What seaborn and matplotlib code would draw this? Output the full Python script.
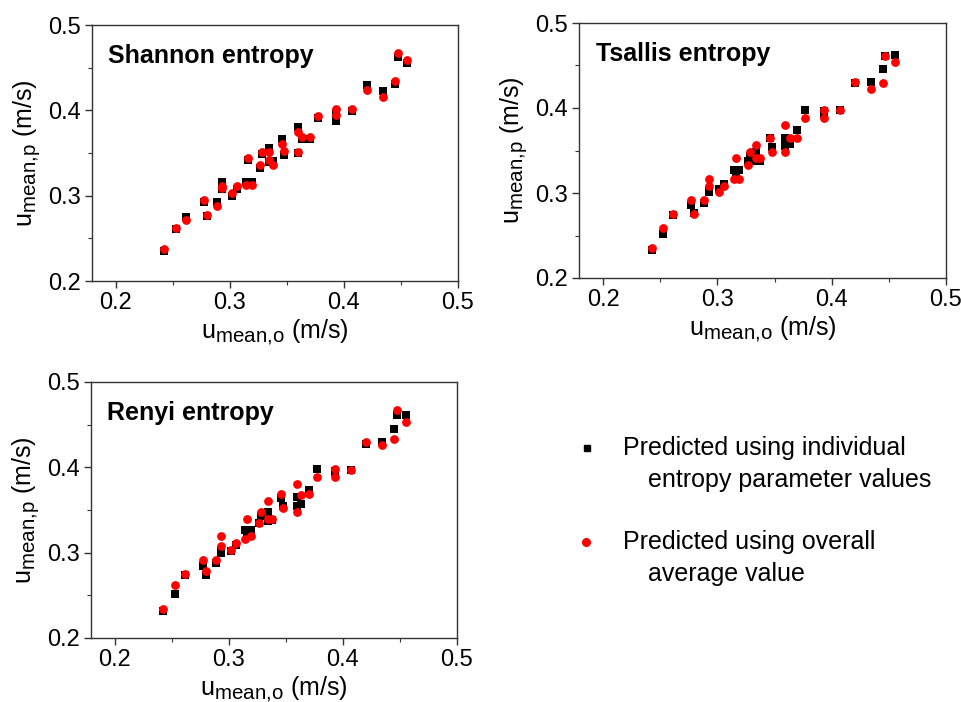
import matplotlib
matplotlib.use("Agg")
import matplotlib.pyplot as plt
import matplotlib._mathtext as mathtext_internal
from matplotlib.lines import Line2D
from matplotlib.ticker import MultipleLocator
import numpy as np
import pandas as pd
import seaborn as sns

sns.set_style("ticks")
plt.rcParams["font.family"] = ["Liberation Sans", "DejaVu Sans"]
plt.rcParams["mathtext.fontset"] = "custom"
plt.rcParams["mathtext.rm"] = "Liberation Sans"
plt.rcParams["mathtext.it"] = "Liberation Sans:italic"
plt.rcParams["text.color"] = "black"
plt.rcParams["axes.labelcolor"] = "black"
plt.rcParams["xtick.color"] = "black"
plt.rcParams["ytick.color"] = "black"
# slightly larger subscripts in the axis labels
mathtext_internal.SHRINK_FACTOR = 0.82

# Observed mean velocity (m/s)
u_obs = [0.2425, 0.2525, 0.2615, 0.2770, 0.2800, 0.2885, 0.2930, 0.2930,
         0.3015, 0.3060, 0.3145, 0.3160, 0.3190, 0.3265, 0.3285, 0.3340,
         0.3340, 0.3375, 0.3460, 0.3475, 0.3595, 0.3595, 0.3635, 0.3700,
         0.3770, 0.3932, 0.3932, 0.4072, 0.4205, 0.4343, 0.4450, 0.4470,
         0.4553]

# Shannon entropy predictions
shannon_indiv = [0.2355, 0.2606, 0.2750, 0.2920, 0.2760, 0.2920, 0.3164, 0.3078,
                 0.3000, 0.3078, 0.3164, 0.3418, 0.3164, 0.3328, 0.3488, 0.3563,
                 0.3395, 0.3406, 0.3660, 0.3477, 0.3800, 0.3496, 0.3660, 0.3660,
                 0.3906, 0.3880, 0.3965, 0.3992, 0.4293, 0.4227, 0.4309, 0.4621,
                 0.4550]
shannon_avg = [0.2370, 0.2620, 0.2720, 0.2950, 0.2775, 0.2880, 0.3110, 0.3090,
               0.3035, 0.3110, 0.3125, 0.3438, 0.3125, 0.3356, 0.3516, 0.3516,
               0.3420, 0.3363, 0.3605, 0.3527, 0.3750, 0.3516, 0.3690, 0.3690,
               0.3934, 0.3945, 0.4016, 0.4012, 0.4238, 0.4160, 0.4344, 0.4668,
               0.4586]

# Tsallis entropy predictions
tsallis_indiv = [0.2324, 0.2520, 0.2742, 0.2859, 0.2760, 0.2883, 0.3008, 0.3035,
                 0.3045, 0.3105, 0.3273, 0.3240, 0.3273, 0.3380, 0.3438, 0.3484,
                 0.3380, 0.3380, 0.3652, 0.3547, 0.3652, 0.3555, 0.3582, 0.3742,
                 0.3977, 0.3930, 0.3970, 0.3973, 0.4289, 0.4301, 0.4453, 0.4617,
                 0.4629]
tsallis_avg = [0.2352, 0.2594, 0.2754, 0.2918, 0.2754, 0.2918, 0.3160, 0.3078,
               0.3008, 0.3086, 0.3160, 0.3406, 0.3160, 0.3328, 0.3484, 0.3566,
               0.3406, 0.3406, 0.3652, 0.3484, 0.3805, 0.3484, 0.3652, 0.3652,
               0.3887, 0.3887, 0.3977, 0.3973, 0.4301, 0.4219, 0.4297, 0.4617,
               0.4539]

# Renyi entropy predictions
renyi_indiv = [0.2316, 0.2516, 0.2742, 0.2844, 0.2742, 0.2883, 0.2996, 0.3030,
               0.3016, 0.3086, 0.3270, 0.3242, 0.3262, 0.3352, 0.3430, 0.3477,
               0.3367, 0.3379, 0.3645, 0.3547, 0.3652, 0.3547, 0.3574, 0.3738,
               0.3977, 0.3945, 0.3960, 0.3965, 0.4277, 0.4297, 0.4445, 0.4617,
               0.4617]
renyi_avg = [0.2344, 0.2617, 0.2754, 0.2910, 0.2781, 0.2910, 0.3191, 0.3074,
             0.3027, 0.3113, 0.3156, 0.3398, 0.3191, 0.3352, 0.3477, 0.3605,
             0.3398, 0.3398, 0.3684, 0.3523, 0.3809, 0.3477, 0.3680, 0.3684,
             0.3887, 0.3887, 0.3977, 0.3965, 0.4297, 0.4258, 0.4336, 0.4668,
             0.4531]

panel_titles = ["Shannon entropy", "Tsallis entropy", "Renyi entropy"]
legend_labels = ["Predicted using individual\nentropy parameter values",
                 "Predicted using overall\naverage value"]
x_ticks = [0.2, 0.3, 0.4, 0.5]
y_ticks = [0.2, 0.3, 0.4, 0.5]

panels = [
    (panel_titles[0], shannon_indiv, shannon_avg, [92, 25, 458, 281]),
    (panel_titles[1], tsallis_indiv, tsallis_avg, [579, 23, 946, 278]),
    (panel_titles[2], renyi_indiv, renyi_avg, [91, 382, 457, 638]),
]

W, H = 961, 702
fig = plt.figure(figsize=(W / 100, H / 100), dpi=100)

for title, indiv, avg, (l, t, r, b) in panels:
    ax = fig.add_axes([l / W, 1 - b / H, (r - l) / W, (b - t) / H])
    df = pd.DataFrame({"obs": u_obs, "indiv": indiv, "avg": avg})
    sns.scatterplot(data=df, x="obs", y="indiv", ax=ax, marker="s", color="black",
                    s=36, linewidth=0, zorder=3)
    sns.scatterplot(data=df, x="obs", y="avg", ax=ax, marker="o", color="#ff0000",
                    s=40, linewidth=0, zorder=4)
    ax.set_xlim(0.179, 0.5)
    ax.set_ylim(0.2, 0.5)
    ax.set_xticks(x_ticks)
    ax.set_yticks(y_ticks)
    ax.set_xticklabels([f"{v:.1f}" for v in x_ticks])
    ax.set_yticklabels([f"{v:.1f}" for v in y_ticks])
    ax.xaxis.set_minor_locator(MultipleLocator(0.05))
    ax.yaxis.set_minor_locator(MultipleLocator(0.05))
    ax.tick_params(which="major", direction="out", length=5, width=1,
                   labelsize=17, pad=3, color="#333333")
    ax.tick_params(which="minor", direction="out", length=3, width=0.8,
                   color="#333333")
    ax.tick_params(top=False, right=False)
    for sp in ax.spines.values():
        sp.set_visible(True)
        sp.set_linewidth(1.0)
        sp.set_color("#333333")
    ax.set_xlabel(r"u$_{\mathregular{mean{,}o}}$ (m/s)", fontsize=18, labelpad=2)
    ax.set_ylabel(r"u$_{\mathregular{mean{,}p}}$ (m/s)", fontsize=18, labelpad=4)
    ax.text(0.045, 0.88, title, transform=ax.transAxes, fontsize=18,
            fontweight="bold", va="center", ha="left")

# Legend for the two prediction series
fig.add_artist(Line2D([587 / W], [1 - 448 / H], transform=fig.transFigure,
                      marker="s", color="black", markersize=5, linestyle="none"))
fig.add_artist(Line2D([586 / W], [1 - 542 / H], transform=fig.transFigure,
                      marker="o", color="#ff0000", markersize=5.5, linestyle="none"))
for (label, y0) in zip(legend_labels, [448, 542]):
    first, second = label.split("\n")
    fig.text(623 / W, 1 - y0 / H, first, fontsize=18, va="center", ha="left")
    fig.text(648 / W, 1 - (y0 + 32) / H, second, fontsize=18,
             va="center", ha="left")

fig.savefig("out.png", dpi=100)
